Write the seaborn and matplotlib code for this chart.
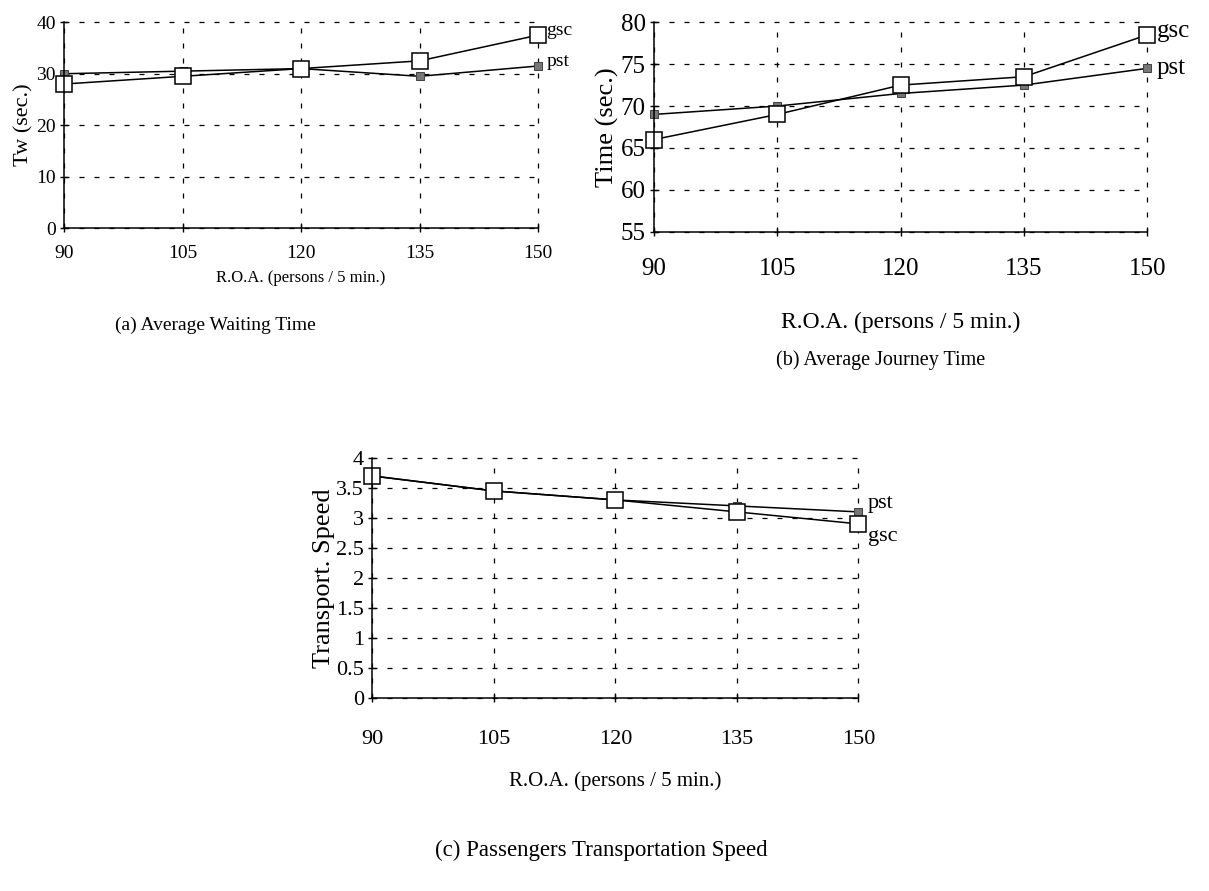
import matplotlib
matplotlib.use("Agg")
import matplotlib.pyplot as plt
import seaborn as sns
import pandas as pd

roa = [90, 105, 120, 135, 150]

wait_gsc = [28, 29.5, 31, 32.5, 37.5]
wait_pst = [30, 30.5, 31, 29.5, 31.5]

journey_gsc = [66, 69, 72.5, 73.5, 78.5]
journey_pst = [69, 70, 71.5, 72.5, 74.5]

speed_gsc = [3.7, 3.45, 3.3, 3.1, 2.9]
speed_pst = [3.7, 3.45, 3.3, 3.2, 3.1]

sns.set_theme(style="white")
plt.rcParams['font.family'] = ['Liberation Serif', 'DejaVu Serif']
plt.rcParams['text.color'] = 'black'
plt.rcParams['axes.labelcolor'] = 'black'

fig = plt.figure(figsize=(12.09, 8.91), dpi=100)
fig.patch.set_facecolor('white')


def panel(rect, gsc, pst, ylim, yticks, ylabel, tick_fs, ylab_fs, xlab_fs,
          xpad, xlabpad, ylabpad, label_offsets):
    ax = fig.add_axes(rect)
    df = pd.DataFrame({'roa': roa * 2, 'val': gsc + pst,
                       'series': ['gsc'] * 5 + ['pst'] * 5})
    sns.lineplot(data=df[df.series == 'pst'], x='roa', y='val', ax=ax,
                 color='black', lw=1.1, marker='s', markersize=6,
                 markerfacecolor='#777777', markeredgecolor='#444444')
    sns.lineplot(data=df[df.series == 'gsc'], x='roa', y='val', ax=ax,
                 color='black', lw=1.1, marker='s', markersize=11,
                 markerfacecolor='white', markeredgecolor='black',
                 markeredgewidth=1.1)
    ax.set_xlim(90, 150)
    ax.set_ylim(*ylim)
    ax.set_xticks(roa)
    ax.set_yticks(yticks)
    ax.set_yticklabels([f'{t:g}' for t in yticks])
    ax.grid(True, color='black', linestyle=(0, (4, 8)), lw=0.9)
    for gl in ax.get_xgridlines() + ax.get_ygridlines():
        gl.set_clip_on(False)
    for s in ['top', 'right']:
        ax.spines[s].set_visible(False)
    for s in ['left', 'bottom']:
        ax.spines[s].set_color('black')
        ax.spines[s].set_linewidth(1.1)
    ax.tick_params(axis='both', direction='inout', length=6, width=1,
                   colors='black', labelsize=tick_fs, bottom=True, left=True)
    ax.tick_params(axis='x', pad=xpad)
    ax.tick_params(axis='y', pad=3)
    ax.set_ylabel(ylabel, fontsize=ylab_fs, color='black', labelpad=ylabpad)
    ax.set_xlabel('R.O.A. (persons / 5 min.)', fontsize=xlab_fs,
                  color='black', labelpad=xlabpad)
    for line in ax.lines:
        line.set_clip_on(False)
    ax.annotate('gsc', (roa[-1], gsc[-1]), xytext=label_offsets[0],
                textcoords='offset points', fontsize=tick_fs, va='center')
    ax.annotate('pst', (roa[-1], pst[-1]), xytext=label_offsets[1],
                textcoords='offset points', fontsize=tick_fs, va='center')
    return ax


axa = panel([0.053, 0.744, 0.392, 0.231], wait_gsc, wait_pst, (0, 40),
            [0, 10, 20, 30, 40], 'Tw (sec.)', 14, 16, 12,
            9, 6, 2, [(6, 3), (6, 3)])
axb = panel([0.541, 0.740, 0.408, 0.235], journey_gsc, journey_pst, (55, 80),
            [55, 60, 65, 70, 75, 80], 'Time (sec.)', 18, 19, 17,
            16, 23, 1, [(7, 3), (7, 0)])
axc = panel([0.308, 0.217, 0.402, 0.269], speed_gsc, speed_pst, (0, 4),
            [0, 0.5, 1, 1.5, 2, 2.5, 3, 3.5, 4], 'Transport. Speed', 16, 19, 15,
            20, 16, 1, [(7, -9), (7, 6)])

fig.text(0.178, 0.635, '(a) Average Waiting Time', fontsize=14,
         ha='center', va='center', color='black')
fig.text(0.728, 0.596, '(b) Average Journey Time', fontsize=14.5,
         ha='center', va='center', color='black')
fig.text(0.497, 0.046, '(c) Passengers Transportation Speed', fontsize=16.5,
         ha='center', va='center', color='black')

fig.savefig('out.png', dpi=100, facecolor='white')
